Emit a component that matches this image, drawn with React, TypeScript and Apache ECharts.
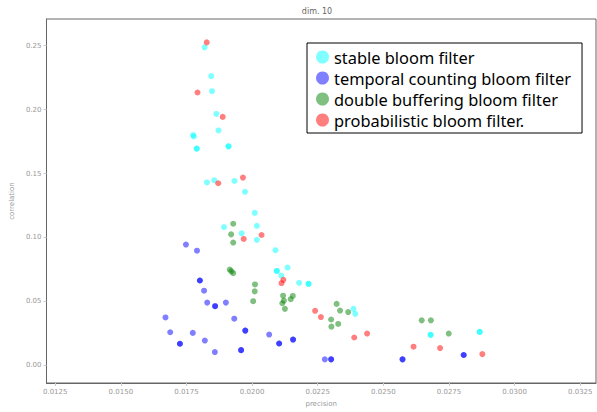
import React, { useEffect, useRef } from "react";
import * as echarts from "echarts";

const seriesNames = [
  "stable bloom filter",
  "temporal counting bloom filter",
  "double buffering bloom filter",
  "probabilistic bloom filter.",
];

const xTicks = [0.0125, 0.015, 0.0175, 0.02, 0.0225, 0.025, 0.0275, 0.03, 0.0325];
const yTicks = [0, 0.05, 0.1, 0.15, 0.2, 0.25];

const stableBloom: number[][] = [
  [0.01819, 0.2487], [0.01844, 0.2262], [0.01847, 0.2144], [0.01864, 0.1966],
  [0.01872, 0.1837], [0.01775, 0.1801], [0.01778, 0.179], [0.01789, 0.1695],
  [0.01789, 0.1695], [0.0191, 0.1713], [0.0191, 0.1713], [0.01828, 0.143],
  [0.01856, 0.1447], [0.01933, 0.1442], [0.01973, 0.1357], [0.0201, 0.1192],
  [0.01893, 0.1081], [0.02018, 0.1091], [0.0196, 0.1032], [0.02018, 0.0981],
  [0.02089, 0.09], [0.02094, 0.0738], [0.02094, 0.0738], [0.02135, 0.0764],
  [0.02111, 0.0702], [0.02179, 0.0645], [0.02215, 0.0637], [0.02215, 0.0637],
  [0.02386, 0.0441], [0.02393, 0.0402], [0.0268, 0.0238], [0.0268, 0.0238],
  [0.02867, 0.0261], [0.02867, 0.0261],
];

const temporalCounting: number[][] = [
  [0.01748, 0.0944], [0.0179, 0.0896], [0.01801, 0.0663], [0.01801, 0.0663],
  [0.01817, 0.0583], [0.01829, 0.049], [0.01859, 0.0462], [0.01859, 0.0462],
  [0.019, 0.049], [0.0167, 0.0374], [0.01932, 0.0364], [0.01688, 0.0258],
  [0.01774, 0.0253], [0.01974, 0.0271], [0.01974, 0.0271], [0.0182, 0.0193],
  [0.01725, 0.0168], [0.01725, 0.0168], [0.02065, 0.024], [0.02103, 0.017],
  [0.02103, 0.017], [0.02156, 0.0201], [0.02156, 0.0201], [0.01858, 0.0103],
  [0.01958, 0.0118], [0.01958, 0.0118], [0.02277, 0.0046], [0.02301, 0.0046],
  [0.02301, 0.0046], [0.02573, 0.0046], [0.02573, 0.0046], [0.02806, 0.008],
  [0.02806, 0.008],
];

const doubleBuffering: number[][] = [
  [0.01928, 0.1107], [0.0192, 0.1024], [0.01928, 0.096], [0.01915, 0.0748],
  [0.01921, 0.0735], [0.01928, 0.072], [0.02011, 0.0632], [0.0201, 0.0578],
  [0.02004, 0.0501], [0.02118, 0.0544], [0.02121, 0.0505], [0.02115, 0.0485],
  [0.02155, 0.0542], [0.02147, 0.0517], [0.02125, 0.0441], [0.02322, 0.048],
  [0.02335, 0.0428], [0.02366, 0.0416], [0.02301, 0.0358], [0.02328, 0.0323],
  [0.02302, 0.0302], [0.02646, 0.0351], [0.02681, 0.0351], [0.02749, 0.0248],
];

const probabilistic: number[][] = [
  [0.01827, 0.2526], [0.01792, 0.2134], [0.01888, 0.1943], [0.01871, 0.1424],
  [0.01965, 0.1468], [0.01968, 0.0988], [0.02036, 0.1019], [0.02119, 0.0668],
  [0.02112, 0.0642], [0.0224, 0.0426], [0.02262, 0.0377], [0.02438, 0.0248],
  [0.02389, 0.0217], [0.02615, 0.0145], [0.02716, 0.0134], [0.02877, 0.0087],
];

const colors = ["#00ffff", "#0000ff", "#008000", "#ff0000"];
const datasets = [stableBloom, temporalCounting, doubleBuffering, probabilistic];

export default function App() {
  const ref = useRef<HTMLDivElement>(null);
  useEffect(() => {
    if (!ref.current) return;
    const chart = echarts.init(ref.current, null, { renderer: "svg" });
    const font = "DejaVu Sans";
    chart.setOption({
      animation: false,
      backgroundColor: "#ffffff",
      graphic: [
        {
          type: "text",
          x: 317,
          y: 11,
          style: {
            text: "dim. 10",
            fontSize: 8,
            fontFamily: font,
            fill: "#666",
            textAlign: "center",
            textVerticalAlign: "middle",
          },
        },
      ],
      grid: {
        left: 37,
        right: 1,
        top: 19,
        bottom: 25,
        show: true,
        borderColor: "#666",
        borderWidth: 1,
        backgroundColor: "transparent",
      },
      legend: {
        orient: "vertical",
        left: 307,
        top: 43,
        icon: "circle",
        itemWidth: 13,
        itemHeight: 13,
        itemGap: 5,
        padding: [6, 11, 5, 9],
        backgroundColor: "#fff",
        borderColor: "#000",
        borderWidth: 1,
        borderRadius: 0,
        textStyle: { fontSize: 16.4, fontFamily: "Noto Sans", color: "#000", lineHeight: 16 },
        data: seriesNames.map((n) => ({ name: n })),
      },
      xAxis: {
        type: "value",
        min: 0.012167,
        max: 0.0331,
        name: "precision",
        nameLocation: "middle",
        nameGap: 17,
        nameTextStyle: { fontSize: 7, color: "#999", fontFamily: font },
        splitLine: { show: false },
        axisLine: { show: true, onZero: false, lineStyle: { color: "#666" } },
        axisTick: { show: true, length: 3, customValues: xTicks, lineStyle: { color: "#ccc" } },
        axisLabel: {
          customValues: xTicks,
          fontSize: 7,
          color: "#999",
          fontFamily: font,
          margin: 5,
          formatter: (v: number) => v.toFixed(4),
        },
      },
      yAxis: {
        type: "value",
        min: -0.0139,
        max: 0.2709,
        name: "correlation",
        nameLocation: "middle",
        nameGap: 25,
        nameTextStyle: { fontSize: 7, color: "#999", fontFamily: font },
        splitLine: { show: false },
        axisLine: { show: true, onZero: false, lineStyle: { color: "#666" } },
        axisTick: { show: true, length: 3, customValues: yTicks, lineStyle: { color: "#ccc" } },
        axisLabel: {
          customValues: yTicks,
          fontSize: 7,
          color: "#999",
          fontFamily: font,
          margin: 5,
          formatter: (v: number) => v.toFixed(2),
        },
      },
      series: datasets.map((d, i) => ({
        name: seriesNames[i],
        type: "scatter",
        data: d,
        symbolSize: 6,
        itemStyle: { color: colors[i], opacity: 0.5 },
      })),
    });
    return () => chart.dispose();
  }, []);
  return (
    <div
      ref={ref}
      style={{ position: "absolute", left: 0, top: 0, width: 597, height: 412 }}
    />
  );
}
